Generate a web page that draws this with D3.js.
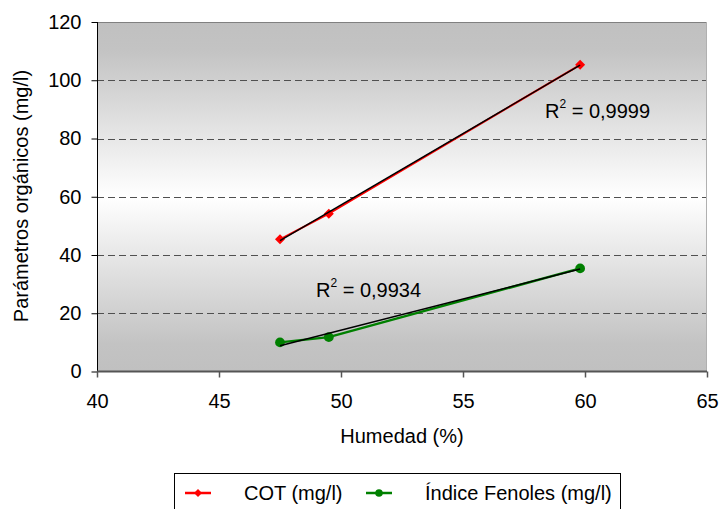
<!DOCTYPE html>
<html><head><meta charset="utf-8">
<script src="https://cdn.jsdelivr.net/npm/d3@7"></script>
<style>body{margin:0;background:#fff}text{font-family:"Liberation Sans",Arial,sans-serif}</style>
</head><body><svg id="c" width="723" height="509"></svg>
<script>
const humedad = [47.5, 49.5, 59.8];
const cot = [45.4, 54.2, 105.3];
const fenoles = [10.0, 11.8, 35.4];
const seriesNames = ["COT (mg/l)", "Índice Fenoles (mg/l)"];
const r2Labels = ["0,9999", "0,9934"];
const xTicks = [40, 45, 50, 55, 60, 65];
const yTicks = [0, 20, 40, 60, 80, 100, 120];

const svg = d3.select("#c");
const L = 97, R = 707, T = 22, B = 371.5;
const x = d3.scaleLinear().domain([40, 65]).range([L, R]);
const y = d3.scaleLinear().domain([0, 120]).range([B, T]);

const defs = svg.append("defs");
const g = defs.append("linearGradient").attr("id", "bg").attr("x1", 0).attr("y1", 0).attr("x2", 0).attr("y2", 1);
g.append("stop").attr("offset", "0%").attr("stop-color", "#c0c0c0");
g.append("stop").attr("offset", "8%").attr("stop-color", "#c3c3c3");
g.append("stop").attr("offset", "50%").attr("stop-color", "#ffffff");
g.append("stop").attr("offset", "92%").attr("stop-color", "#c3c3c3");
g.append("stop").attr("offset", "100%").attr("stop-color", "#c0c0c0");

svg.append("rect").attr("x", L).attr("y", T).attr("width", R - L).attr("height", B - T).attr("fill", "url(#bg)");

// grid
svg.append("g").selectAll("line").data(yTicks.filter(d => d > 0 && d < 120)).join("line")
  .attr("x1", L).attr("x2", R).attr("y1", d => Math.round(y(d)) + 0.5).attr("y2", d => Math.round(y(d)) + 0.5)
  .attr("stroke", "#505050").attr("stroke-width", 1).attr("stroke-dasharray", "7,4");

// borders
svg.append("line").attr("x1", L).attr("x2", R).attr("y1", T + 0.5).attr("y2", T + 0.5).attr("stroke", "#808080");
svg.append("line").attr("x1", R - 0.5).attr("x2", R - 0.5).attr("y1", T).attr("y2", B).attr("stroke", "#b0b0b0");

// axes
const fs = "20px";
const yAxis = svg.append("g").attr("transform", `translate(${L + 0.5},0)`)
  .call(d3.axisLeft(y).tickValues(yTicks).tickSize(6).tickPadding(10).tickFormat(d3.format("d")));
yAxis.selectAll("text").attr("font-size", fs).attr("fill", "#000").attr("font-family", "Liberation Sans, Arial, sans-serif");
yAxis.selectAll("line,path").attr("stroke", "#000");
yAxis.select(".domain").attr("d", `M0,${T}V${B}`);

const xAxis = svg.append("g").attr("transform", `translate(0,${B})`)
  .call(d3.axisBottom(x).tickValues(xTicks).tickSize(6).tickPadding(16).tickFormat(d3.format("d")));
xAxis.selectAll("text").attr("font-size", fs).attr("fill", "#000").attr("font-family", "Liberation Sans, Arial, sans-serif");
xAxis.selectAll("line").attr("stroke", "#555").attr("stroke-width", 1.5);
xAxis.select(".domain").attr("stroke", "#555").attr("stroke-width", 2).attr("d", `M${L},0H${R}`);

// axis titles
svg.append("text").attr("x", 402).attr("y", 443).attr("text-anchor", "middle").attr("font-size", fs).text("Humedad (%)");
svg.append("text").attr("transform", "translate(28,196) rotate(-90)").attr("text-anchor", "middle").attr("font-size", fs).text("Parámetros orgánicos (mg/l)");

function linreg(xs, ys) {
  const mx = d3.mean(xs), my = d3.mean(ys);
  let sxy = 0, sxx = 0;
  xs.forEach((v, i) => { sxy += (v - mx) * (ys[i] - my); sxx += (v - mx) ** 2; });
  const b = sxy / sxx; return { a: my - b * mx, b };
}

const line = d3.line().x(d => x(d[0])).y(d => y(d[1]));
const series = [
  { vals: cot, color: "#ff0000", w: 2, marker: "diamond" },
  { vals: fenoles, color: "#008000", w: 2.5, marker: "circle" }
];
series.forEach(s => {
  const pts = humedad.map((h, i) => [h, s.vals[i]]);
  svg.append("path").attr("d", line(pts)).attr("fill", "none").attr("stroke", s.color).attr("stroke-width", s.w);
  svg.append("g").selectAll("path").data(pts).join("path")
    .attr("d", s.marker === "diamond" ? d3.symbol(d3.symbolSquare, 50)() : d3.symbol(d3.symbolCircle, 75)())
    .attr("transform", d => s.marker === "diamond" ? `translate(${x(d[0])},${y(d[1])}) rotate(45)` : `translate(${x(d[0])},${y(d[1])})`)
    .attr("fill", s.color);
});
// trendlines
series.forEach(s => {
  const { a, b } = linreg(humedad, s.vals);
  const x0 = d3.min(humedad), x1 = d3.max(humedad);
  svg.append("path").attr("d", line([[x0, a + b * x0], [x1, a + b * x1]]))
    .attr("fill", "none").attr("stroke", "#000").attr("stroke-width", 1.5);
});

// R2 labels
const r2Pos = [[545, 118], [316, 297]];
r2Pos.forEach((p, i) => {
  const t = svg.append("text").attr("x", p[0]).attr("y", p[1]).attr("font-size", fs);
  t.append("tspan").text("R");
  t.append("tspan").attr("dy", -10).attr("font-size", "12px").text("2");
  t.append("tspan").attr("dy", 10).text(" = " + r2Labels[i]);
});

// legend
svg.append("rect").attr("x", 174.5).attr("y", 473.5).attr("width", 446).attr("height", 45).attr("fill", "#fff").attr("stroke", "#000");
const leg = [
  { lx: 185, tx: 244, color: "#ff0000", marker: "diamond" },
  { lx: 366, tx: 425, color: "#008000", marker: "circle" }
];
leg.forEach((l, i) => {
  svg.append("line").attr("x1", l.lx).attr("x2", l.lx + 26).attr("y1", 493).attr("y2", 493).attr("stroke", l.color).attr("stroke-width", 2.5);
  svg.append("path").attr("d", l.marker === "diamond" ? d3.symbol(d3.symbolSquare, 32)() : d3.symbol(d3.symbolCircle, 45)())
    .attr("transform", l.marker === "diamond" ? `translate(${l.lx + 13},493) rotate(45)` : `translate(${l.lx + 13},493)`).attr("fill", l.color);
  svg.append("text").attr("x", l.tx).attr("y", 500).attr("font-size", fs).text(seriesNames[i]);
});
</script></body></html>
